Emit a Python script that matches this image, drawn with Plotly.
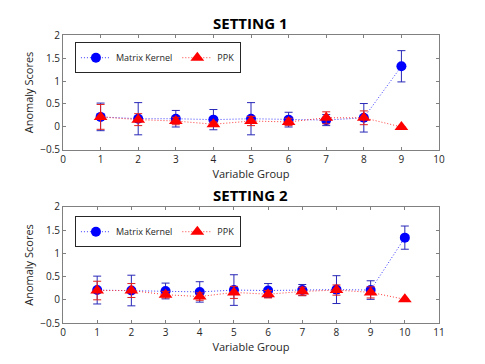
import plotly.graph_objects as go

# setting 1
groups_1 = [1, 2, 3, 4, 5, 6, 7, 8, 9]
mk_1 = [0.22, 0.18, 0.18, 0.16, 0.18, 0.16, 0.15, 0.20, 1.32]
mk_err_1 = [0.30, 0.35, 0.18, 0.22, 0.35, 0.16, 0.12, 0.31, 0.34]
ppk_1 = [0.22, 0.16, 0.13, 0.06, 0.13, 0.11, 0.20, 0.20, 0.00]
ppk_err_1 = [0.27, 0.13, 0.08, 0.05, 0.10, 0.08, 0.13, 0.15, 0.0]

# setting 2
groups_2 = [1, 2, 3, 4, 5, 6, 7, 8, 9, 10]
mk_2 = [0.21, 0.20, 0.19, 0.17, 0.21, 0.20, 0.21, 0.22, 0.21, 1.34]
mk_err_2 = [0.30, 0.33, 0.17, 0.22, 0.33, 0.15, 0.12, 0.30, 0.20, 0.25]
ppk_2 = [0.20, 0.20, 0.11, 0.07, 0.16, 0.12, 0.18, 0.21, 0.16, 0.01]
ppk_err_2 = [0.20, 0.15, 0.07, 0.08, 0.13, 0.08, 0.09, 0.11, 0.12, 0.0]

blue = '#0000ff'
red = '#ff0000'
font = 'Open Sans'

fig = go.Figure()

panels = [
    (groups_1, mk_1, mk_err_1, ppk_1, ppk_err_1, 'x', 'y', 'legend'),
    (groups_2, mk_2, mk_err_2, ppk_2, ppk_err_2, 'x2', 'y2', 'legend2'),
]

for g, mk, mk_err, ppk, ppk_err, xa, ya, leg in panels:
    fig.add_trace(go.Scatter(x=g, y=mk, name='Matrix Kernel', mode='lines+markers',
                             xaxis=xa, yaxis=ya, legend=leg,
                             line=dict(color='#3a3aff', width=1, dash='1px,2px'),
                             marker=dict(symbol='circle', size=10, color=blue),
                             error_y=dict(type='data', array=mk_err, color='#2828b8',
                                          thickness=1, width=4)))
    fig.add_trace(go.Scatter(x=g, y=ppk, name='PPK', mode='lines+markers',
                             xaxis=xa, yaxis=ya, legend=leg,
                             line=dict(color='#ff3a3a', width=1, dash='1px,2px'),
                             marker=dict(symbol='triangle-up', size=12, color=red),
                             error_y=dict(type='data', array=ppk_err, color='#e02020',
                                          thickness=1, width=4)))

axis_common = dict(showline=True, linecolor='#808080', linewidth=1, mirror='ticks',
                   ticks='inside', ticklen=3, tickcolor='#808080', showgrid=False,
                   zeroline=False, automargin=False,
                   tickfont=dict(size=10, color='#262626', family=font))

# the page puts the figure 8px in from the top-left corner
fig.update_layout(
    width=485, height=364,
    margin=dict(l=0, r=0, t=0, b=0),
    paper_bgcolor='white', plot_bgcolor='white',
    font=dict(family=font, color='#262626'),
    xaxis=dict(domain=[0.1134, 0.8887], anchor='y', range=[0, 10], dtick=1,
               title=dict(text='Variable Group', font=dict(size=11), standoff=0),
               **axis_common),
    yaxis=dict(domain=[0.6099, 0.9258], anchor='x', range=[-0.5, 2], dtick=0.5,
               title=dict(text='Anomaly Scores', font=dict(size=11), standoff=4),
               **axis_common),
    xaxis2=dict(domain=[0.1134, 0.8887], anchor='y2', range=[0, 11], dtick=1,
                title=dict(text='Variable Group', font=dict(size=11), standoff=0),
                **axis_common),
    yaxis2=dict(domain=[0.1346, 0.4533], anchor='x2', range=[-0.5, 2], dtick=0.5,
                title=dict(text='Anomaly Scores', font=dict(size=11), standoff=4),
                **axis_common),
    legend=dict(x=0.138, y=0.906, xanchor='left', yanchor='top', orientation='h',
                bordercolor='#262626', borderwidth=1, bgcolor='white',
                font=dict(size=9, family=font), itemwidth=30, tracegroupgap=0),
    legend2=dict(x=0.138, y=0.428, xanchor='left', yanchor='top', orientation='h',
                 bordercolor='#262626', borderwidth=1, bgcolor='white',
                 font=dict(size=9, family=font), itemwidth=30, tracegroupgap=0),
    annotations=[
        dict(text='<b>SETTING 1</b>', x=0.499, y=0.958, xref='paper', yref='paper',
             xanchor='center', yanchor='middle',
             showarrow=False, font=dict(size=15, color='black', family=font)),
        dict(text='<b>SETTING 2</b>', x=0.499, y=0.486, xref='paper', yref='paper',
             xanchor='center', yanchor='middle',
             showarrow=False, font=dict(size=15, color='black', family=font)),
    ],
)

fig.write_html("out.html")
